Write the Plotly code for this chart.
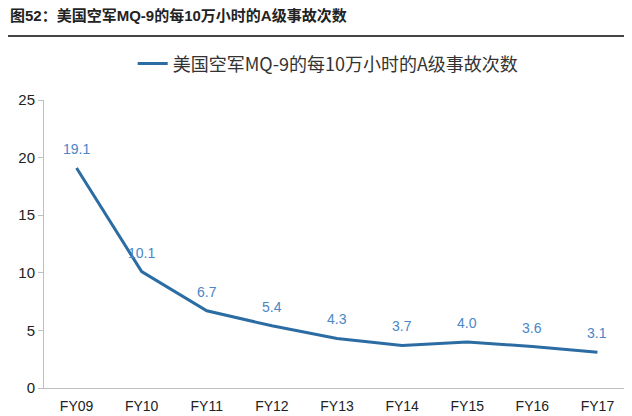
import plotly.graph_objects as go

categories = ["FY09", "FY10", "FY11", "FY12", "FY13", "FY14", "FY15", "FY16", "FY17"]
values = [19.1, 10.1, 6.7, 5.4, 4.3, 3.7, 4.0, 3.6, 3.1]
labels = ["19.1", "10.1", "6.7", "5.4", "4.3", "3.7", "4.0", "3.6", "3.1"]
series_name = "美国空军MQ-9的每10万小时的A级事故次数"
title_text = "图52：美国空军MQ-9的每10万小时的A级事故次数"

FONT = "Liberation Sans, Arial, Noto Sans CJK SC, sans-serif"

fig = go.Figure()
fig.add_trace(go.Scatter(
    x=categories, y=values, mode="lines", name=series_name,
    line=dict(color="#2b6ca3", width=3),
))
for c, v, t in zip(categories, values, labels):
    fig.add_annotation(x=c, y=v, text=t, showarrow=False, yshift=19,
                       font=dict(color="#4a86c8", size=14, family=FONT))

fig.update_layout(
    width=624, height=408,
    margin=dict(l=36, r=2, t=92, b=28),
    paper_bgcolor="white", plot_bgcolor="white",
    font=dict(family=FONT, size=13, color="#333333"),
    showlegend=True,
    legend=dict(orientation="h", x=0.485, xanchor="center", y=0.863, yanchor="middle",
                yref="container",
                font=dict(size=18, color="#333333", family="Noto Sans CJK SC, Liberation Sans, sans-serif")),
    xaxis=dict(range=[-0.5, 8.5], showgrid=False, showline=True, linecolor="#bfbfbf", linewidth=1,
               ticks="", automargin=False, ticklabelstandoff=5,
               tickfont=dict(size=14, color="#222222")),
    yaxis=dict(range=[0, 25], tickvals=[0, 5, 10, 15, 20, 25], showgrid=False,
               showline=True, linecolor="#bfbfbf", linewidth=1,
               ticks="outside", ticklen=5, tickcolor="#bfbfbf", automargin=False,
               tickfont=dict(size=15, color="#222222"), zeroline=False),
)

fig.add_annotation(x=-0.061, y=(380 - 8) / 288, xref="paper", yref="paper",
                   xanchor="left", yanchor="middle",
                   text="<b>" + title_text + "</b>", showarrow=False,
                   font=dict(size=15, color="#222222", family="Liberation Sans, Noto Sans CJK SC, sans-serif"))
fig.add_shape(type="line", xref="paper", yref="paper", x0=-0.08, x1=1.01,
              y0=(380 - 28) / 288, y1=(380 - 28) / 288,
              line=dict(color="#444444", width=2))

fig.write_html("out.html")
